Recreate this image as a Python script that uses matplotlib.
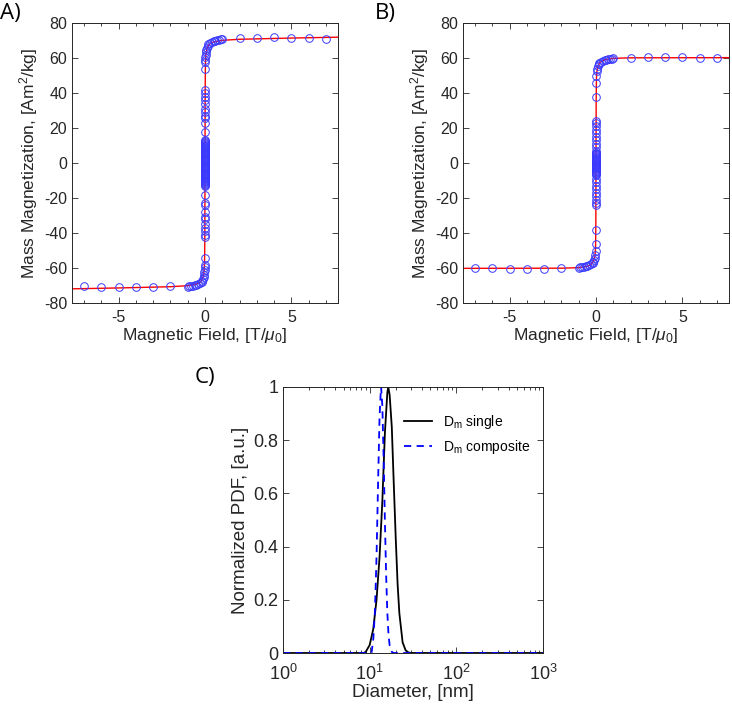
"""Magnetization loops (A, B) and diameter distributions (C)."""

import matplotlib

matplotlib.use("Agg")
import matplotlib.pyplot as plt  # noqa: E402
from matplotlib.ticker import MultipleLocator, LogLocator, NullFormatter  # noqa: E402

plt.rcParams["font.family"] = ["Liberation Sans", "DejaVu Sans"]
plt.rcParams["mathtext.fontset"] = "custom"
plt.rcParams["mathtext.rm"] = "Liberation Sans"
plt.rcParams["mathtext.it"] = "Liberation Sans:italic"
plt.rcParams["mathtext.default"] = "regular"
plt.rcParams["axes.unicode_minus"] = False

AX_COLOR = "#262626"

# --- panel A: measured points off the vertical step ---
a_field = [7, 6, 5, 4, 3, 2,
           1.0, 0.9, 0.8, 0.7, 0.6, 0.5, 0.4, 0.3, 0.2, 0.15, 0.1, 0.07, 0.05,
           0.03, 0.02, 0.01, 0.0, 0.0,
           0.0, 0.0, -0.01, -0.02, -0.03, -0.05, -0.07, -0.1, -0.15, -0.2,
           -0.3, -0.4, -0.5, -0.6, -0.7, -0.8, -0.9, -1.0,
           -2, -3, -4, -5, -6, -7]
a_mag = [70.9, 71.3, 71.6, 71.8, 71.6, 71.2,
         70.7, 70.6, 70.4, 70.2, 70.0, 69.7, 69.3, 68.7, 67.8, 67.0, 65.8, 64.6, 63.5,
         62.0, 60.5, 58.8, 58.0, 54.0,
         -54.0, -58.0, -59.5, -61.0, -62.5, -64.0, -65.3, -66.5, -67.5, -68.2,
         -68.8, -69.2, -69.5, -69.8, -70.0, -70.2, -70.4, -70.6,
         -70.5, -70.9, -70.9, -70.9, -70.7, -70.1]
# points on the step at zero field
a_step_mag = [42, 40, 38, 36, 34, 31, 29, 27, 26, 23, 18,
              13, 12.5, 12, 11.5, 11, 10.5, 10, 9.5, 9, 8.5, 8, 7.5, 7, 6.5, 6,
              5.5, 5, 4.5, 4, 3.5, 3, 2.5, 2, 1.5, 1, 0.5, 0, -0.5, -1, -1.5, -2,
              -2.5, -3, -3.5, -4, -4.5, -5, -5.5, -6, -6.5, -7, -7.5, -8, -8.5, -9,
              -9.5, -10, -10.5, -11, -11.5, -12, -12.5, -13,
              -18, -23, -24, -28, -31, -32, -35, -37, -39, -41, -42]

# --- panel A: fitted curve ---
a_fit_field = [-7.7, -5, -2, -1, -0.5, -0.3, -0.2, -0.1, -0.05, -0.03, -0.02, -0.01,
               0, 0.01, 0.02, 0.03, 0.05, 0.1, 0.2, 0.3, 0.5, 1, 2, 5, 7.7]
a_fit_mag = [-71.9, -71.4, -70.7, -70.1, -69.2, -68.2, -67.2, -64.8, -61.5, -58.0,
             -53.0, -41.0, 0, 41.0, 53.0, 58.0, 61.5, 64.8, 67.2, 68.2, 69.2, 70.1,
             70.7, 71.4, 71.9]

# --- panel B: measured points off the vertical step ---
b_field = [7, 6, 5, 4, 3, 2,
           1.0, 0.9, 0.8, 0.7, 0.6, 0.5, 0.4, 0.3, 0.2, 0.15, 0.1, 0.07, 0.05,
           0.02, 0.0, 0.0,
           0.0, 0.0, -0.02, -0.05, -0.07, -0.1, -0.15, -0.2, -0.3, -0.4,
           -0.5, -0.6, -0.7, -0.8, -0.9, -1.0,
           -2, -3, -4, -5, -6, -7]
b_mag = [60.2, 60.2, 60.3, 60.3, 60.3, 60.2,
         59.8, 59.6, 59.4, 59.2, 59.0, 58.7, 58.3, 57.8, 57.0, 56.3, 55.2, 54.0, 52.5,
         50.0, 46.0, 38.0,
         -38.0, -46.0, -50.0, -52.5, -54.0, -55.2, -56.3, -57.0, -57.8, -58.3,
         -58.7, -59.0, -59.2, -59.4, -59.6, -59.8,
         -60.2, -60.3, -60.3, -60.3, -60.2, -60.2]
b_step_mag = [24, 23, 21, 19, 17, 15, 13, 11, 9, 7,
              6, 5.5, 5, 4.5, 4, 3.5, 3, 2.5, 2, 1.5, 1, 0.5, 0, -0.5, -1, -1.5, -2,
              -2.5, -3, -3.5, -4, -4.5, -5, -5.5, -6,
              -7, -9, -11, -13, -15, -17, -19, -21, -23, -24]

# --- panel B: fitted curve ---
b_fit_field = [-7.7, -2, -1, -0.5, -0.3, -0.2, -0.1, -0.05, -0.03, -0.02, -0.01,
               0, 0.01, 0.02, 0.03, 0.05, 0.1, 0.2, 0.3, 0.5, 1, 2, 7.7]
b_fit_mag = [-60.2, -60.1, -59.8, -59.0, -58.0, -57.0, -55.0, -52.0, -49.0, -45.0,
             -35.0, 0, 35.0, 45.0, 49.0, 52.0, 55.0, 57.0, 58.0, 59.0, 59.8, 60.1,
             60.2]

# --- panel C: normalized size distributions ---
single_d = [1, 8.5, 9, 10, 11, 12, 13, 14, 15, 16, 16.4, 17, 18, 19, 20, 21, 22, 24,
            26, 28, 30, 1000]
single_pdf = [0, 0, 0.004, 0.03, 0.09, 0.20, 0.36, 0.57, 0.83, 0.98, 1.0,
              0.97, 0.85, 0.63, 0.43, 0.26, 0.15, 0.04, 0.01, 0.002, 0, 0]
comp_d = [1, 10.5, 11, 11.5, 12, 12.5, 13, 13.5, 13.55, 14, 14.5, 15, 15.5,
          16, 16.5, 17, 18, 19, 1000]
comp_pdf = [0, 0, 0.050, 0.156, 0.361, 0.637, 0.887, 0.999, 1.0,
            0.930, 0.729, 0.491, 0.289, 0.150, 0.069, 0.029, 0.004, 0, 0]

W, H = 732, 707
fig = plt.figure(figsize=(W / 100, H / 100), dpi=100)


def frac(left, top, right, bottom):
    return [left / W, 1 - bottom / H, (right - left) / W, (bottom - top) / H]


def style(ax):
    for s in ax.spines.values():
        s.set_color(AX_COLOR)
        s.set_linewidth(0.7)
    ax.tick_params(which="both", direction="in", top=True, right=True,
                   colors=AX_COLOR, labelsize=11.5, width=0.6)
    ax.tick_params(which="major", length=4)
    ax.tick_params(which="minor", length=2.5)


def loop_panel(rect, fit_x, fit_y, pts_x, pts_y, step_y):
    ax = fig.add_axes(rect)
    ax.plot(fit_x, fit_y, color="red", lw=1.0, zorder=2)
    marker = dict(ls="none", marker="o", ms=5.5, mfc="none", mec="#3a3aff",
                  mew=0.7, zorder=3)
    ax.plot(pts_x, pts_y, **marker)
    ax.plot([0.0] * len(step_y), step_y, **marker)
    ax.set_xlim(-7.7, 7.7)
    ax.set_ylim(-80, 80)
    ax.xaxis.set_major_locator(MultipleLocator(5))
    ax.xaxis.set_minor_locator(MultipleLocator(1))
    ax.yaxis.set_major_locator(MultipleLocator(20))
    style(ax)
    ax.tick_params(axis="x", pad=5)
    ax.set_xlabel(r"Magnetic Field, [T/$\mathit{\mu}_0$]", fontsize=12.5,
                  color=AX_COLOR, labelpad=1)
    ax.set_ylabel(r"Mass Magnetization, [Am$^2$/kg]", fontsize=12.5,
                  color=AX_COLOR, labelpad=3)
    return ax


ax_a = loop_panel(frac(72, 23, 338, 303), a_fit_field, a_fit_mag,
                  a_field, a_mag, a_step_mag)
ax_b = loop_panel(frac(463, 23, 729, 303), b_fit_field, b_fit_mag,
                  b_field, b_mag, b_step_mag)

ax_c = fig.add_axes(frac(283, 387, 543, 653))
ax_c.plot(single_d, single_pdf, color="black", lw=1.3, label=r"D$_\mathrm{m}$ single")
ax_c.plot(comp_d, comp_pdf, color="blue", lw=1.3, ls=(0, (4, 3)),
          label=r"D$_\mathrm{m}$ composite")
ax_c.set_xscale("log")
ax_c.set_xlim(1, 1000)
ax_c.set_ylim(0, 1)
ax_c.yaxis.set_major_locator(MultipleLocator(0.2))
ax_c.yaxis.set_major_formatter(plt.FuncFormatter(lambda v, _: f"{v:g}"))
ax_c.xaxis.set_minor_locator(LogLocator(base=10, subs=range(2, 10), numticks=20))
ax_c.xaxis.set_minor_formatter(NullFormatter())
style(ax_c)
ax_c.tick_params(axis="both", labelsize=13)
ax_c.tick_params(axis="x", pad=8)
ax_c.set_xlabel("Diameter, [nm]", fontsize=13.5, color=AX_COLOR, labelpad=0)
ax_c.set_ylabel("Normalized PDF, [a.u.]", fontsize=13.5, color=AX_COLOR, labelpad=3)
ax_c.legend(loc="upper right", bbox_to_anchor=(1.0, 0.95), frameon=False,
            fontsize=10, handlelength=2.0, labelspacing=0.5)

label_font = ["Open Sans", "DejaVu Sans"]
fig.text(0 / W, 1 - 13 / H, "A)", fontsize=16, family=label_font, va="center")
fig.text(375 / W, 1 - 13 / H, "B)", fontsize=16, family=label_font, va="center")
fig.text(195 / W, 1 - 378 / H, "C)", fontsize=16, family=label_font, va="center")

fig.savefig("out.png", dpi=100)
plt.close(fig)
